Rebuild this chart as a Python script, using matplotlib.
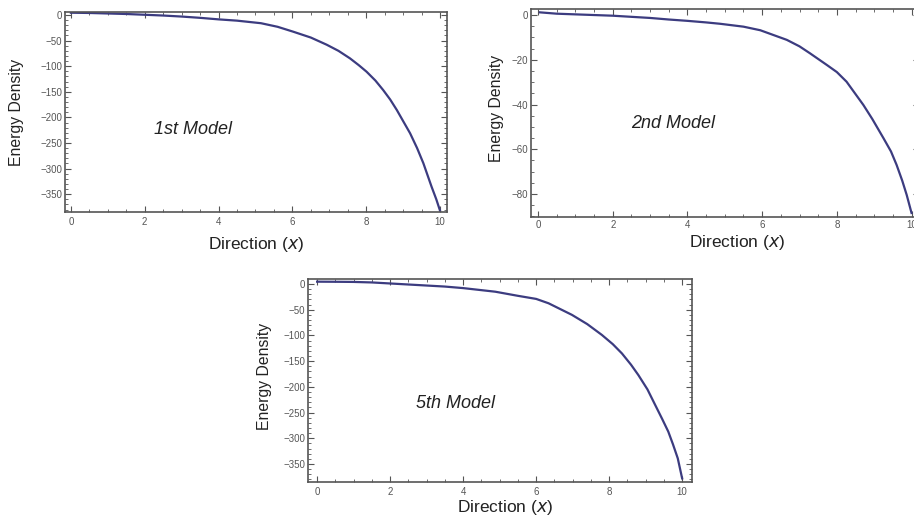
import matplotlib.pyplot as plt
from matplotlib.ticker import MultipleLocator

plt.rcParams["font.family"] = ["Liberation Sans", "DejaVu Sans"]

# values
x1 = [0, 0.5, 1, 1.5, 2, 2.5, 3, 3.5, 4, 4.5, 5.15, 5.6, 6.02, 6.5, 6.93, 7.25, 7.56, 7.8, 8.01, 8.25,
      8.46, 8.65, 8.83, 9.0, 9.19, 9.38, 9.55, 9.77, 9.9, 10.0]
y1 = [4.5, 4, 3, 2, 0.5, -1, -3, -5.5, -8.5, -11, -16, -23, -32.5, -44, -58, -70, -84.6, -98, -110.7, -128,
      -146.5, -165, -185.5, -207, -231, -260, -289.6, -335, -360, -382]

x2 = [0.05, 0.5, 1, 1.5, 2, 2.5, 3, 3.5, 4, 4.5, 4.87, 5.5, 5.95, 6.66, 7.0, 7.28, 7.73, 8.0, 8.26, 8.71,
      8.95, 9.25, 9.45, 9.6, 9.75, 9.87, 10.0]
y2 = [1.2, 0.6, 0.3, 0, -0.3, -0.8, -1.3, -2, -2.6, -3.3, -3.9, -5.2, -6.8, -11.1, -14, -17.1, -22.3, -25.5, -29.8, -40.2,
      -46.5, -55.1, -61, -67, -74, -80.4, -88.5]

x5 = [0, 0.5, 1, 1.5, 2, 2.5, 3, 3.5, 4, 4.88, 5.5, 6.0, 6.34, 6.98, 7.4, 7.8, 8.1, 8.35, 8.6, 8.8,
      9.05, 9.26, 9.45, 9.62, 9.75, 9.88, 10.0]
y5 = [4.5, 4.3, 4, 3, 1, -1, -3, -5, -8, -15, -23, -29, -37.5, -60, -78, -99, -117, -135, -157, -177,
      -205, -235, -262, -287, -312, -339, -378]

labels = ["1st Model", "2nd Model", "5th Model"]

W, H = 914, 521
line_color = "#3c3c80"
frame_color = "#555555"
text_color = "#222222"


def make_axes(fig, left, top, right, bottom):
    return fig.add_axes([left / W, 1 - bottom / H, (right - left) / W, (bottom - top) / H])


def style(ax, ymajor, yminor, xpad):
    for s in ax.spines.values():
        s.set_color(frame_color)
        s.set_linewidth(1.2)
    ax.xaxis.set_major_locator(MultipleLocator(2))
    ax.xaxis.set_minor_locator(MultipleLocator(0.5))
    ax.yaxis.set_major_locator(MultipleLocator(ymajor))
    ax.yaxis.set_minor_locator(MultipleLocator(yminor))
    ax.tick_params(which="both", direction="in", top=True, right=True,
                   color=frame_color, labelcolor="#555555", labelsize=7)
    ax.tick_params(axis="x", pad=xpad)
    ax.tick_params(axis="y", pad=2)
    ax.tick_params(which="major", length=4, width=0.8)
    ax.tick_params(which="minor", length=2, width=0.6)


def add_labels(ax, ylab_xy, xlab_xy):
    ax.set_xlabel("Direction ($\\it{x}$)", fontsize=12.5, color=text_color, va="center")
    ax.set_ylabel("Energy Density", fontsize=11.3, color=text_color, va="center")
    ax.xaxis.set_label_coords(*xlab_xy)
    ax.yaxis.set_label_coords(*ylab_xy)


fig = plt.figure(figsize=(W / 100, H / 100), dpi=100)

ax1 = make_axes(fig, 65, 12, 447, 212)
ax1.plot(x1, y1, color=line_color, lw=1.6)
ax1.set_xlim(-0.16, 10.19)
ax1.set_ylim(-384.8, 5.9)
style(ax1, 50, 10, 3.6)
ax1.text(3.3, -224, labels[0], style="italic", fontsize=13, ha="center", va="center", color=text_color)
add_labels(ax1, (-0.126, 0.5), (0.5, -0.165))

ax2 = make_axes(fig, 531, 9, 919, 217)
ax2.plot(x2, y2, color=line_color, lw=1.6)
ax2.set_xlim(-0.19, 10.2)
ax2.set_ylim(-90.3, 2.7)
style(ax2, 20, 5, 2.2)
ax2.text(3.62, -48.4, labels[1], style="italic", fontsize=13, ha="center", va="center", color=text_color)
add_labels(ax2, (-0.090, 0.524), (0.531, -0.125))

ax3 = make_axes(fig, 308, 279, 692, 482)
ax3.plot(x5, y5, color=line_color, lw=1.6)
ax3.set_xlim(-0.25, 10.27)
ax3.set_ylim(-385, 9.7)
style(ax3, 50, 10, 3.6)
ax3.text(3.78, -232, labels[2], style="italic", fontsize=13, ha="center", va="center", color=text_color)
add_labels(ax3, (-0.112, 0.522), (0.513, -0.128))

fig.savefig("out.png", dpi=100)
